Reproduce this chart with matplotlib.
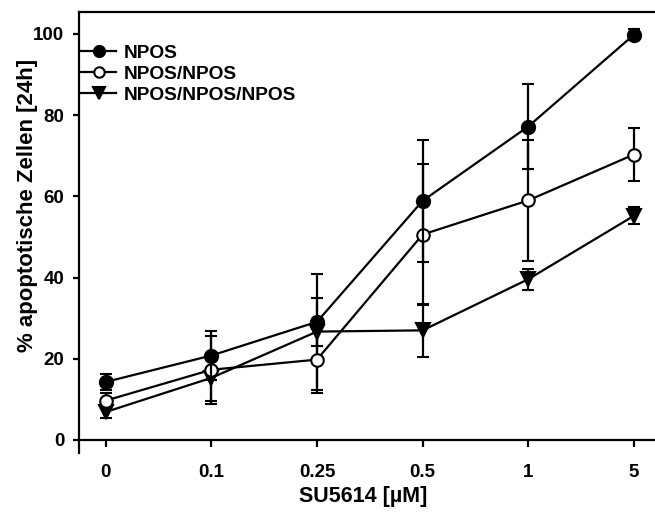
import matplotlib
matplotlib.use('Agg')
import matplotlib.pyplot as plt
from matplotlib.lines import Line2D
import numpy as np

# SU5614 concentrations (categorical x axis)
conc_labels = ['0', '0.1', '0.25', '0.5', '1', '5']

npos = [14.3, 20.8, 29.1, 58.9, 77.2, 99.8]
npos_err = [2.0, 6.0, 5.9, 15.0, 10.4, 1.3]

npos2 = [9.7, 17.3, 19.8, 50.6, 59.0, 70.3]
npos2_err = [1.8, 8.4, 8.3, 17.4, 15.0, 6.6]

npos3 = [6.9, 15.3, 26.7, 27.0, 39.6, 55.2]
npos3_err = [1.5, 5.6, 14.3, 6.6, 2.6, 2.1]

series_names = ['NPOS', 'NPOS/NPOS', 'NPOS/NPOS/NPOS']

plt.rcParams['font.family'] = ['Liberation Sans', 'DejaVu Sans']
plt.rcParams['font.weight'] = 'bold'

fig = plt.figure(figsize=(6.55, 5.15), dpi=100)
ax = fig.add_axes([0.1206, 0.1204, 0.8794, 0.8563])

x = np.arange(len(conc_labels))
common = dict(color='black', linewidth=1.6, elinewidth=1.6, capsize=4.5,
              capthick=1.6, markeredgewidth=1.5)

ax.errorbar(x, npos3, yerr=npos3_err, fmt='-v', markersize=10,
            markerfacecolor='black', zorder=3, **common)
ax.errorbar(x, npos2, yerr=npos2_err, fmt='-o', markersize=9,
            markerfacecolor='white', zorder=4, **common)
ax.errorbar(x, npos, yerr=npos_err, fmt='-o', markersize=9.5,
            markerfacecolor='black', zorder=5, **common)

ax.set_xlim(-0.253, 5.2)
ax.set_ylim(-3.2, 105.4)
ax.set_xticks(x)
ax.set_xticklabels(conc_labels)
ax.set_yticks([0, 20, 40, 60, 80, 100])

ax.spines['right'].set_visible(False)
ax.spines['bottom'].set_position(('data', 0))
for s in ['left', 'bottom', 'top']:
    ax.spines[s].set_linewidth(1.6)

ax.tick_params(axis='y', direction='out', length=4.5, width=1.6, pad=6,
               labelsize=13.5)
ax.tick_params(axis='x', direction='out', length=5, width=1.6, pad=12,
               labelsize=13.5)
for lbl in ax.get_xticklabels() + ax.get_yticklabels():
    lbl.set_fontweight('bold')

ax.set_xlabel('SU5614 [µM]', fontsize=15.5, fontweight='bold')
ax.xaxis.set_label_coords(0.493, -0.075)
ax.set_ylabel('% apoptotische Zellen [24h]', fontsize=16, fontweight='bold')
ax.yaxis.set_label_coords(-0.072, 0.562)

# legend shows line + marker only (no error bars)
handles = [
    Line2D([], [], color='black', lw=1.6, marker='o', markersize=8,
           markerfacecolor='black', markeredgewidth=1.5),
    Line2D([], [], color='black', lw=1.6, marker='o', markersize=7.5,
           markerfacecolor='white', markeredgewidth=1.5),
    Line2D([], [], color='black', lw=1.6, marker='v', markersize=9,
           markerfacecolor='black', markeredgewidth=1.5),
]
leg = ax.legend(handles, series_names, loc='upper left',
                bbox_to_anchor=(0.004, 0.927), frameon=False, fontsize=13.8,
                handlelength=1.8, handletextpad=0.4, labelspacing=0.2,
                borderaxespad=0.0, borderpad=0.0)
for t in leg.get_texts():
    t.set_fontweight('bold')

fig.savefig('out.png', dpi=100)
